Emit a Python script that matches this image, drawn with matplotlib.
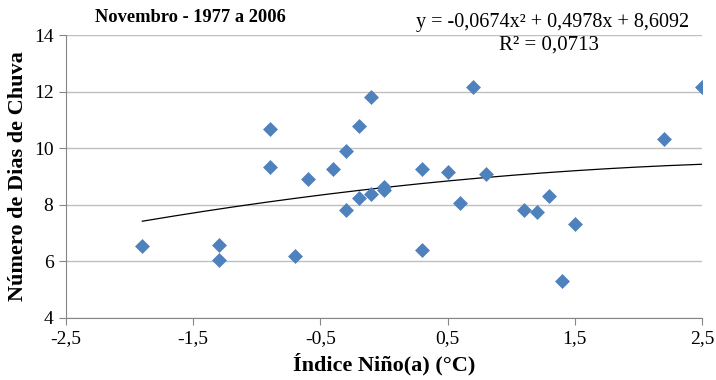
import matplotlib
matplotlib.use("Agg")
import matplotlib.pyplot as plt
import numpy as np

plt.rcParams['font.family'] = ['Liberation Serif', 'DejaVu Serif']

# Data
nino_index = [-1.9, -1.3, -1.3, -0.9, -0.9, -0.7, -0.6, -0.4, -0.3, -0.3,
              -0.2, -0.2, -0.1, -0.1, 0.0, 0.0, 0.3, 0.3, 0.5, 0.6,
              0.7, 0.8, 1.1, 1.2, 1.3, 1.4, 1.5, 2.2, 2.5]
rain_days = [6.53, 6.59, 6.04, 10.69, 9.35, 6.19, 8.90, 9.28, 9.89, 7.82,
             10.80, 8.23, 11.81, 8.38, 8.52, 8.62, 9.26, 6.41, 9.16, 8.05,
             12.17, 9.08, 7.80, 7.75, 8.31, 5.30, 7.33, 10.33, 12.17]
trend_coef = [-0.0674, 0.4978, 8.6092]
r_squared = 0.0713
x_ticks = [-2.5, -1.5, -0.5, 0.5, 1.5, 2.5]
y_ticks = [4, 6, 8, 10, 12, 14]

title = "Novembro - 1977 a 2006"
xlabel = "Índice Niño(a) (°C)"
ylabel = "Número de Dias de Chuva"


def fmt(v, nd):
    return f"{v:.{nd}f}".replace('.', ',')


fig = plt.figure(figsize=(7.16, 3.80), dpi=100)
ax = fig.add_axes([66/716, 1-318/380, (702-66)/716, (318-35)/380])

ax.scatter(nino_index, rain_days, marker='D', s=7.6**2, color='#4F81BD',
           linewidths=0, zorder=3)

xs = np.linspace(min(nino_index), max(nino_index), 200)
ax.plot(xs, np.polyval(trend_coef, xs), color='black', lw=0.9, zorder=2)

ax.set_xlim(-2.5, 2.5)
ax.set_ylim(4, 14)
ax.set_xticks(x_ticks)
ax.set_xticklabels([fmt(v, 1) for v in x_ticks])
ax.set_yticks(y_ticks)
ax.set_yticklabels([str(v) for v in y_ticks])
ax.tick_params(labelsize=14, colors='#868686', length=5, width=0.8,
               direction='out', labelcolor='black')
ax.tick_params(axis='y', pad=4)
ax.tick_params(axis='x', pad=4)

ax.grid(axis='y', color='#BFBFBF', lw=1)
ax.set_axisbelow(True)
for s in ['top', 'right']:
    ax.spines[s].set_visible(False)
for s in ['left', 'bottom']:
    ax.spines[s].set_color('#868686')
    ax.spines[s].set_linewidth(0.8)

ax.set_xlabel(xlabel, fontsize=16, fontweight='bold', labelpad=4)
ax.set_ylabel(ylabel, fontsize=16, fontweight='bold', labelpad=4)

fig.text(95/716, 1-17/380, title, fontsize=13.3, fontweight='bold',
         ha='left', va='center')

a, b, c = trend_coef
eq = f"y = {fmt(a, 4)}x² + {fmt(b, 4)}x + {fmt(c, 4)}"
fig.text(689/716, 1-22/380, eq, fontsize=14.5, ha='right', va='center')
fig.text(549/716, 1-45/380, f"R² = {fmt(r_squared, 4)}", fontsize=15,
         ha='center', va='center')

fig.savefig("out.png", dpi=100)
